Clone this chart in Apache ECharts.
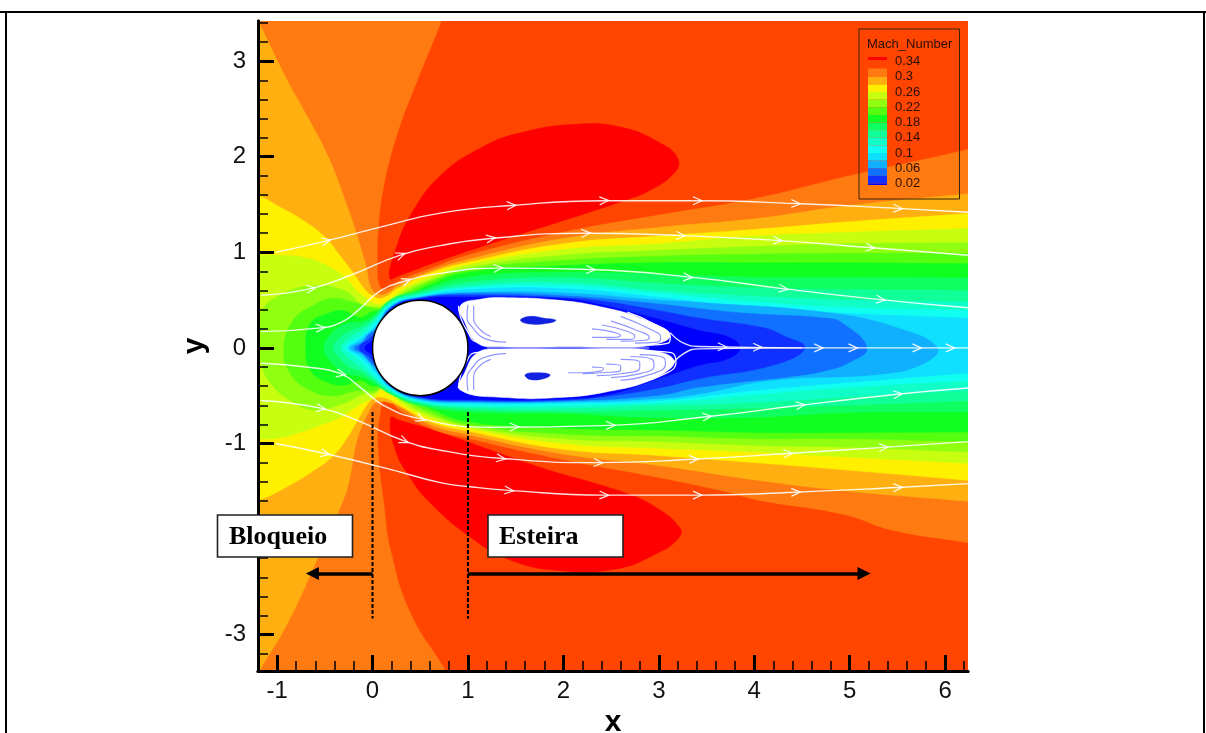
<!DOCTYPE html>
<html><head><meta charset="utf-8">
<style>html,body{margin:0;padding:0;background:#fff}#c{width:1206px;height:733px}</style>
<script src="https://cdn.jsdelivr.net/npm/echarts@6/dist/echarts.min.js"></script></head>
<body><div id="c"></div>
<script>
// ---------- ticks ----------
const xMajor=[-1,0,1,2,3,4,5,6];
const xMinor=[-0.8,-0.6,-0.4,-0.2,0.2,0.4,0.6,0.8,1.2,1.4,1.6,1.8,2.2,2.4,2.6,2.8,3.2,3.4,3.6,3.8,4.2,4.4,4.6,4.8,5.2,5.4,5.6,5.8,6.2];
const yMajor=[-3,-2,-1,0,1,2,3];
const yMinor=[-3.2,-2.8,-2.6,-2.4,-2.2,-1.8,-1.6,-1.4,-1.2,-0.8,-0.6,-0.4,-0.2,0.2,0.4,0.6,0.8,1.2,1.4,1.6,1.8,2.2,2.4,2.6,2.8,3.2,3.4];
// ---------- legend ----------
const legendTicks=[0.34,0.3,0.26,0.22,0.18,0.14,0.1,0.06,0.02];
const legendTop=0.352, legendBottom=0.016;
const machColors=['#FF0000','#FF4500','#FF7A10','#FFB010','#FFF000','#C8FF10','#90FF10','#55FF10','#10FF20','#10FF60','#10FF98','#10FFC8','#10FFF0','#10E0FF','#10B0FF','#1070FF','#1030FF','#0000FF'];
const machEdges=[0.352,0.344,0.322,0.30,0.28,0.26,0.24,0.22,0.20,0.18,0.16,0.14,0.12,0.10,0.08,0.06,0.04,0.02,0.016];
// ---------- Mach number contours, (x, y) ----------
const field=[[-2,4.2],[7,4.2],[7,-4.2],[-2,-4.2]];
const redTop=[[.18,.73],[.24,1.02],[.40,1.39],[.71,1.80],[1.13,2.09],[1.55,2.25],[2.13,2.34],[2.6,2.31],[3.02,2.14],[3.2,1.98],[3.17,1.84],[2.91,1.65],[2.6,1.53],[2.07,1.355],[1.34,1.125],[.71,.915],[.29,.76]];
const redBottom=[[.19,-.73],[.24,-1.07],[.4,-1.365],[.58,-1.595],[1.0,-1.96],[1.445,-2.22],[1.97,-2.33],[2.565,-2.31],[2.98,-2.15],[3.19,-2.01],[3.225,-1.89],[2.94,-1.65],[2.565,-1.49],[1.76,-1.25],[.71,-.885],[.29,-.76]];
const L1=[[7,2.27],[6.3,2.09],[5,1.80],[4,1.56],[3,1.39],[2,1.21],[1,.97],[.61,.83],[.29,.705],[.14,.61],[.07,.655],[.05,.885],[.06,1.23],[.115,1.68],[.26,2.24],[.47,2.80],[.72,3.42],[1.0,4.2],[-2,4.2],[-2,-4.2],[1.2,-4.2],[.76,-3.37],[.40,-2.78],[.19,-2.12],[.115,-1.6],[.06,-1.09],[.07,-.74],[.145,-.52],[.29,-.655],[.61,-.84],[1,-.945],[2,-1.17],[3,-1.355],[3.64,-1.49],[4.06,-1.595],[4.93,-1.74],[5.46,-1.91],[6.3,-2.05],[7,-2.2]];
const L2=[[7,1.7],[6.3,1.62],[5,1.49],[4,1.35],[3,1.26],[2,1.145],[1,.925],[.6,.80],[.28,.66],[.12,.56],[.0,.6],[-.07,.86],[-.145,1.12],[-.24,1.41],[-.46,1.99],[-.70,2.45],[-.91,2.83],[-1.15,3.32],[-1.6,4.2],[-2,4.2],[-2,-4.2],[-1.6,-4.1],[-1.17,-3.35],[-.89,-2.88],[-.575,-2.2],[-.31,-1.6],[-.24,-1.365],[-.17,-.99],[-.095,-.78],[-.03,-.655],[.02,-.58],[.12,-.56],[.29,-.62],[.6,-.80],[1,-.905],[2,-1.11],[3,-1.23],[4,-1.38],[5,-1.5],[6.3,-1.61],[7,-1.68]];
const L3=[[7,1.46],[6.3,1.41],[5,1.32],[4,1.24],[3,1.17],[2,1.09],[1,.895],[.6,.78],[.28,.63],[.1,.52],[-.01,.55],[-.095,.63],[-.2,.78],[-.345,.97],[-.51,1.17],[-.76,1.355],[-1.0,1.49],[-1.19,1.595],[-2,1.9],[-2,-1.9],[-1.19,-1.595],[-.93,-1.47],[-.66,-1.31],[-.41,-1.125],[-.27,-.945],[-.17,-.78],[-.06,-.60],[.01,-.53],[.12,-.52],[.28,-.60],[.6,-.77],[1,-.87],[2,-1.06],[3,-1.125],[4,-1.2],[5,-1.28],[6.3,-1.39],[7,-1.45]];
const L4=[[7,1.27],[6.3,1.25],[5,1.21],[4,1.17],[3,1.09],[2,1.03],[1,.87],[.6,.74],[.3,.6],[.12,.47],[0,.47],[-.08,.53],[-.17,.60],[-.27,.72],[-.45,.845],[-.69,.94],[-.97,.97],[-1.3,.97],[-2,.97],[-2,-.95],[-1.3,-.95],[-1.0,-.945],[-.76,-.885],[-.55,-.81],[-.345,-.73],[-.2,-.635],[-.095,-.57],[0,-.53],[.12,-.43],[.3,-.58],[.6,-.73],[1,-.84],[2,-1.0],[3,-1.05],[4,-1.09],[5,-1.145],[6.3,-1.21],[7,-1.24]];
const L5=[[7,1.10],[6.3,1.10],[5,1.09],[4,1.06],[3,1.02],[2,.97],[1,.84],[.6,.71],[.3,.57],[.12,.44],[0,.43],[-.09,.44],[-.3,.6],[-.61,.65],[-.93,.57],[-1.17,.37],[-1.2,0],[-1.17,-.16],[-1.07,-.37],[-.86,-.55],[-.61,-.65],[-.3,-.58],[-.09,-.48],[0,-.48],[.12,-.42],[.3,-.55],[.6,-.70],[1,-.82],[2,-.95],[3,-.98],[4,-1.02],[5,-1.04],[6.3,-1.09],[7,-1.1]];
const L6=[[7,.99],[6.3,.99],[5,.99],[4,.98],[3,.96],[2,.915],[1,.82],[.6,.69],[.3,.54],[.14,.42],[0,.42],[-.16,.465],[-.41,.52],[-.62,.445],[-.83,.29],[-.93,0],[-.86,-.27],[-.65,-.445],[-.41,-.5],[-.16,-.445],[0,-.45],[.14,-.41],[.3,-.52],[.6,-.67],[1,-.80],[2,-.90],[3,-.92],[4,-.95],[5,-.95],[6.3,-.98],[7,-.98]];
const L7=[[7,.88],[6.3,.88],[5,.89],[4,.89],[3,.89],[2,.86],[1,.79],[.6,.66],[.3,.5],[.14,.40],[0,.38],[-.125,.32],[-.31,.39],[-.47,.36],[-.65,.255],[-.70,0],[-.65,-.235],[-.47,-.36],[-.3,-.39],[-.125,-.34],[0,-.4],[.14,-.39],[.3,-.48],[.6,-.63],[1,-.77],[2,-.84],[3,-.86],[4,-.885],[5,-.885],[6.3,-.88],[7,-.88]];
const L8=[[7,.72],[6.3,.73],[5,.74],[4,.74],[3,.77],[2,.79],[1,.74],[.5,.60],[.2,.51],[0,.33],[-.125,.27],[-.26,.26],[-.41,.17],[-.51,0],[-.41,-.17],[-.26,-.27],[-.125,-.3],[0,-.36],[.2,-.49],[.5,-.6],[1,-.67],[2,-.685],[3,-.73],[4,-.725],[5,-.675],[6.3,-.67],[7,-.66]];
const L9=[[7,.58],[6.3,.60],[5,.61],[4,.63],[3,.675],[2,.735],[1,.685],[.5,.58],[.2,.49],[0,.30],[-.1,.23],[-.25,.17],[-.35,.1],[-.41,0],[-.35,-.1],[-.25,-.19],[-.1,-.26],[0,-.33],[.2,-.47],[.5,-.58],[1,-.64],[2,-.665],[3,-.65],[4,-.63],[5,-.60],[6.3,-.55],[7,-.52]];
const L10=[[7,.46],[6.3,.48],[5,.50],[4,.54],[3,.60],[2,.685],[1,.65],[.5,.56],[.2,.48],[0,.27],[-.1,.19],[-.22,.12],[-.33,0],[-.22,-.13],[-.1,-.22],[0,-.3],[.2,-.46],[.5,-.57],[1,-.62],[2,-.63],[3,-.60],[4,-.57],[5,-.51],[6.3,-.44],[7,-.41]];
const L11=[[7,.37],[6.3,.39],[5,.42],[4,.48],[3,.57],[2,.65],[1,.63],[.5,.55],[.2,.46],[0,.24],[-.08,.15],[-.18,.09],[-.29,0],[-.18,-.09],[-.08,-.18],[0,-.27],[.2,-.445],[.5,-.56],[1,-.60],[2,-.60],[3,-.57],[4,-.49],[5,-.41],[6.3,-.34],[7,-.31]];
const L12=[[7,.28],[6.3,.31],[5,.36],[4,.42],[3,.53],[2,.62],[1,.61],[.5,.54],[.2,.45],[.02,.22],[-.07,.15],[-.15,.08],[-.26,0],[-.15,-.08],[-.07,-.15],[.02,-.25],[.2,-.43],[.5,-.55],[1,-.585],[2,-.58],[3,-.55],[4,-.445],[5,-.36],[6.3,-.26],[7,-.23]];
const L13=[[5.92,0],[5.5,.21],[4.76,.37],[3.43,.475],[3,.50],[2,.575],[1,.58],[.5,.53],[.2,.44],[.03,.21],[-.05,.14],[-.12,.07],[-.23,0],[-.12,-.07],[-.05,-.13],[.03,-.23],[.2,-.42],[.5,-.54],[1,-.57],[2,-.565],[3,-.53],[3.43,-.48],[4.17,-.34],[5.36,-.27],[5.78,-.16]];
const L14=[[5.18,0],[4.93,.255],[4.76,.31],[3.95,.36],[3.43,.41],[3,.46],[2,.545],[1,.57],[.5,.525],[.2,.43],[.04,.2],[-.05,.13],[-.1,.06],[-.19,0],[-.1,-.06],[-.05,-.12],[.04,-.21],[.2,-.41],[.5,-.53],[1,-.56],[2,-.555],[3,-.495],[3.43,-.41],[4.45,-.29],[4.76,-.235],[5.0,-.15]];
const L15=[[4.53,0],[4.3,.13],[4.1,.21],[3.43,.31],[3,.39],[2.4,.49],[2,.525],[1,.55],[.5,.52],[.2,.42],[.05,.19],[-.03,.1],[-.14,0],[-.03,-.1],[.05,-.2],[.2,-.40],[.5,-.52],[1,-.55],[2,-.545],[2.5,-.5],[3,-.42],[3.43,-.32],[4.2,-.18]];
const L16=[[3.85,0],[3.74,.11],[3.43,.18],[3,.30],[2.4,.45],[2,.515],[1,.53],[.5,.51],[.2,.41],[.06,.17],[.0,.08],[-.08,0],[.0,-.08],[.06,-.2],[.2,-.39],[.5,-.51],[1,-.54],[2,-.535],[2.5,-.48],[3,-.32],[3.43,-.18],[3.73,-.11]];
// ---------- separated wake ----------
const whiteUpper=[[.92,.44],[1.13,.51],[1.41,.525],[1.94,.5],[2.39,.43],[2.81,.31],[3.12,.13],[2.81,.012],[2.1,.012],[1.34,.012],[1.1,.05],[.97,.26]];
const whiteLower=[[.92,-.44],[1.41,-.52],[1.94,-.52],[2.45,-.46],[2.95,-.32],[3.16,-.13],[2.81,-.012],[2.1,-.012],[1.34,-.012],[1.1,-.05],[.97,-.25]];
const spotUpper=[[1.55,.29],[1.65,.33],[1.8,.31],[1.92,.29],[1.85,.26],[1.65,.25]];
const spotLower=[[1.6,-.28],[1.72,-.26],[1.86,-.28],[1.8,-.32],[1.65,-.33]];
const loopsWhite=[
 [[2.67,.375],[2.95,.25],[3.12,.115],[3.10,.05],[2.88,.03]],
 [[2.85,-.03],[3.13,-.05],[3.18,-.15],[3.0,-.3],[2.7,-.38]],
 [[.9,.44],[.92,.33],[.98,.2],[1.1,.06],[1.45,.03]],
 [[.9,-.42],[.92,-.3],[.97,-.17],[1.08,-.05],[1.45,-.03]]];
const loopsBlue=[
 [[1.2,0],[2,0],[2.9,0]],
 [[2.6,.33],[2.9,.2],[3.02,.11],[2.98,.06],[2.75,.05]],
 [[2.5,.28],[2.78,.18],[2.9,.11],[2.85,.08],[2.6,.07]],
 [[2.4,.24],[2.65,.18],[2.75,.12],[2.7,.09],[2.45,.09]],
 [[2.3,.2],[2.5,.17],[2.6,.13],[2.5,.11],[2.3,.11]],
 [[2.8,-.07],[3.05,-.1],[3.07,-.17],[2.9,-.28],[2.6,-.34]],
 [[2.7,-.09],[2.93,-.12],[2.95,-.19],[2.75,-.28],[2.5,-.31]],
 [[2.6,-.12],[2.8,-.15],[2.8,-.21],[2.6,-.27],[2.35,-.29]],
 [[2.45,-.17],[2.6,-.19],[2.6,-.23],[2.4,-.26],[2.2,-.27]],
 [[2.3,-.2],[2.42,-.21],[2.4,-.24],[2.2,-.26],[2.05,-.26]],
 [[1.0,.45],[.99,.33],[1.06,.2],[1.17,.1],[1.4,.06]],
 [[1.06,.44],[1.06,.32],[1.12,.2],[1.24,.12]],
 [[1.0,-.45],[.99,-.33],[1.05,-.2],[1.17,-.1],[1.4,-.06]],
 [[1.06,-.44],[1.06,-.32],[1.11,-.2],[1.24,-.12]]];
const cylinder=[0.5,0,0.5];
// ---------- streamlines ----------
const s1=[[-1.015,1.0],[-.46,1.125],[.145,1.28],[.71,1.41],[1.445,1.49],[2.42,1.54],[3.43,1.54],[4.43,1.51],[5.5,1.46],[6.24,1.42]];
const s2=[[-1.17,.55],[-.65,.62],[-.23,.76],[.29,.97],[.71,1.07],[1.235,1.145],[2.23,1.2],[3.225,1.175],[4.24,1.125],[5.21,1.05],[6.24,.97]];
const s3=[[-1.17,.17],[-.545,.21],[-.335,.265],[-.155,.39],[.085,.6],[.365,.705],[.71,.78],[1.31,.835],[2.28,.82],[3.43,.73],[4.3,.62],[5.32,.505],[6.24,.42]];
const s4a=[[3.12,.16],[3.26,.05],[3.43,.015],[4.5,0],[6.24,0]];
const s4b=[[3.12,-.2],[3.26,-.06],[3.43,-.01],[4.5,0]];
const s5=[[-1.17,-.16],[-.65,-.205],[-.335,-.27],[-.125,-.415],[.115,-.6],[.5,-.74],[1.235,-.83],[2.49,-.81],[3.5,-.72],[4.48,-.60],[5.5,-.485],[6.24,-.42]];
const s6=[[-1.17,-.55],[-.545,-.63],[-.155,-.76],[.325,-.97],[.71,-1.07],[1.34,-1.155],[2.36,-1.2],[3.36,-1.165],[4.35,-1.105],[5.35,-1.04],[6.24,-.98]];
const s7=[[-1.015,-1.0],[-.5,-1.105],[.145,-1.26],[.71,-1.41],[1.0,-1.45],[1.425,-1.49],[2.42,-1.54],[3.43,-1.54],[4.43,-1.51],[5.5,-1.46],[6.24,-1.42]];
const arrowsS1=[-.49,1.45,2.42,3.4,4.43,5.5];
const arrowsS2=[-.65,.29,1.235,2.23,3.225,4.24,5.21];
const arrowsS3=[-.55,.35,1.31,2.28,3.3,4.3,5.32];
const arrowsS4=[3.66,4.03,4.67,5.03,5.7,6.05];
const arrowsS5=[-.335,.5,1.48,2.49,3.5,4.48,5.5];
const arrowsS6=[-.545,.325,1.34,2.36,3.36,4.35,5.35];
const arrowsS7=[-.5,1.425,2.42,3.4,4.43,5.5];
// ---------- annotations ----------
const guideBlock=[[0,-.67],[0,-2.83]];
const guideWake=[[1,-.67],[1,-2.83]];
const arrowBlock=[[0,-2.36],[-.63,-2.36]];
const arrowWake=[[1,-2.36],[5.15,-2.36]];

const layers=[
 [field,'#FF4500'],[redTop,'#FF0000'],[redBottom,'#FF0000'],
 [L1,'#FF7A10'],[L2,'#FFB010'],[L3,'#FFF000'],[L4,'#C8FF10'],[L5,'#90FF10'],[L6,'#55FF10'],[L7,'#10FF20'],
 [L8,'#10FF60'],[L9,'#10FF98'],[L10,'#10FFC8'],[L11,'#10FFF0'],[L12,'#10E0FF'],[L13,'#10B0FF'],[L14,'#1070FF'],[L15,'#1030FF'],[L16,'#0000FF'],
 [whiteUpper,'#FFFFFF'],[whiteLower,'#FFFFFF'],[spotUpper,'#1020E0'],[spotLower,'#1020E0']];

function line(data,color,width,z,extra){return Object.assign({type:'line',data:data,showSymbol:false,symbol:'none',silent:true,animation:false,z:z,smooth:0.5,
  lineStyle:{color:color,width:width}},extra||{});}

const streams=[[s1,arrowsS1],[s2,arrowsS2],[s3,arrowsS3],[s4a,arrowsS4],[s5,arrowsS5],[s6,arrowsS6],[s7,arrowsS7]];
const arrowItems=[];
streams.forEach((st,i)=>st[1].forEach(x=>arrowItems.push([x,i])));

const series=[];
series.push({type:'custom',coordinateSystem:'cartesian2d',clip:true,silent:true,animation:false,z:1,
  data:layers.map((l,i)=>[i]),encode:{x:[],y:[]},
  renderItem:function(p,api){const l=layers[api.value(0)];
    const smooth=api.value(0)===0?0:0.45;
    return {type:'polygon',shape:{points:l[0].map(c=>api.coord(c)),smooth:smooth},style:{fill:l[1],stroke:l[1],lineWidth:0.5}};}});
loopsBlue.forEach(l=>series.push(line(l,'#8f96ff',1.2,2,{smooth:0.5})));
loopsWhite.forEach(l=>series.push(line(l,'#ffffff',1.2,2,{smooth:0.5})));
[s1,s2,s3,s4a,s4b,s5,s6,s7].forEach(s=>series.push(line(s,'rgba(255,255,255,0.88)',1.4,3)));
series.push({type:'custom',coordinateSystem:'cartesian2d',clip:true,silent:true,animation:false,z:4,
  data:arrowItems,encode:{x:0,y:[]},
  renderItem:function(p,api){
    const x=api.value(0), pts=streams[api.value(1)][0];
    let k=0; while(k<pts.length-2&&pts[k+1][0]<x)k++;
    const a=pts[k],b=pts[k+1],t=(x-a[0])/(b[0]-a[0]);
    const c=api.coord([x,a[1]+t*(b[1]-a[1])]),pa=api.coord(a),pb=api.coord(b);
    const ang=Math.atan2(pb[1]-pa[1],pb[0]-pa[0]),cs=Math.cos(ang),sn=Math.sin(ang);
    const tip=[c[0]+5*cs,c[1]+5*sn];
    const wing=s=>[tip[0]-9*cs-s*4*-sn,tip[1]-9*sn-s*4*cs];
    return {type:'polyline',shape:{points:[wing(1),tip,wing(-1)]},style:{fill:null,stroke:'rgba(255,255,255,0.9)',lineWidth:1.2}};}});
series.push({type:'custom',coordinateSystem:'cartesian2d',clip:true,silent:true,animation:false,z:5,
  data:[cylinder],encode:{x:0,y:1},
  renderItem:function(p,api){const c=api.coord([api.value(0),api.value(1)]),r=api.size([api.value(2),0])[0];
    return {type:'circle',shape:{cx:c[0],cy:c[1],r:r},style:{fill:'#fff',stroke:'#000',lineWidth:1.5}};}});
[guideBlock,guideWake].forEach(g=>series.push(line(g,'#000',2,6,{smooth:false,lineStyle:{color:'#000',width:2,type:[4,2]}})));
[arrowBlock,arrowWake].forEach(a=>series.push({type:'line',data:[],silent:true,animation:false,z:7,symbol:'none',
  markLine:{silent:true,animation:false,symbol:['none','triangle'],symbolSize:13,label:{show:false},
    lineStyle:{color:'#000',width:3.5,type:'solid'},itemStyle:{color:'#000'},
    data:[[{coord:a[0]},{coord:a[1]}]]}}));
// legend colour bar
series.push({type:'custom',coordinateSystem:'cartesian2d',xAxisIndex:2,yAxisIndex:2,silent:true,animation:false,z:8,
  data:machColors.map((c,i)=>[i]),encode:{x:[],y:[]},
  renderItem:function(p,api){const i=api.value(0);
    const a=api.coord([0,machEdges[i]]),b=api.coord([1,machEdges[i+1]]);
    return {type:'rect',shape:{x:a[0],y:a[1],width:b[0]-a[0],height:b[1]-a[1]},style:{fill:machColors[i]}};}});

const sans='"Liberation Sans",Arial,sans-serif', serif='"Liberation Serif","Times New Roman",serif';
const axisBase={z:20,axisLine:{onZero:false,lineStyle:{color:'#000',width:3}},splitLine:{show:false},minorTick:{show:false}};
function labelBox(x,w,txt,tx){return {type:'group',z:100,children:[
  {type:'rect',z:100,shape:{x:x,y:515,width:w,height:42},style:{fill:'#fff',stroke:'#222',lineWidth:1.6}},
  {type:'text',z:101,x:tx,y:537,style:{text:txt,fill:'#000',font:'bold 26px '+serif,textVerticalAlign:'middle'}}]};}
const option={animation:false,backgroundColor:'#fff',
 grid:[{left:258,top:21,width:710,height:650,outerBoundsMode:'none'},{left:868,top:57,width:19,height:128,outerBoundsMode:'none'}],
 xAxis:[
  Object.assign({},axisBase,{type:'value',min:-1.2,max:6.24,gridIndex:0,position:'bottom',name:'x',nameLocation:'middle',nameGap:23,
    nameTextStyle:{fontFamily:sans,fontWeight:'bold',fontSize:30,color:'#000'},
    axisTick:{show:true,inside:true,length:16,lineStyle:{color:'#000',width:3},customValues:xMajor},
    axisLabel:{show:true,customValues:xMajor,margin:8,fontFamily:sans,fontSize:24,color:'#111'}}),
  Object.assign({},axisBase,{type:'value',min:-1.2,max:6.24,gridIndex:0,position:'bottom',
    axisTick:{show:true,inside:true,length:10,lineStyle:{color:'#000',width:1.5},customValues:xMinor},
    axisLabel:{show:false}}),
  {type:'value',min:0,max:1,gridIndex:1,show:false}],
 yAxis:[
  Object.assign({},axisBase,{type:'value',min:-3.38,max:3.42,gridIndex:0,position:'left',name:'y',nameLocation:'middle',nameGap:48,nameRotate:90,
    nameTextStyle:{fontFamily:sans,fontWeight:'bold',fontSize:30,color:'#000'},
    axisTick:{show:true,inside:true,length:16,lineStyle:{color:'#000',width:3},customValues:yMajor},
    axisLabel:{show:true,customValues:yMajor,margin:12,fontFamily:sans,fontSize:24,color:'#111'}}),
  Object.assign({},axisBase,{type:'value',min:-3.38,max:3.42,gridIndex:0,position:'left',
    axisTick:{show:true,inside:true,length:10,lineStyle:{color:'#000',width:1.5},customValues:yMinor},
    axisLabel:{show:false}}),
  {type:'value',z:20,min:legendBottom,max:legendTop,gridIndex:1,position:'right',axisLine:{show:false},axisTick:{show:false},splitLine:{show:false},
    axisLabel:{show:true,customValues:legendTicks,margin:8,fontFamily:sans,fontSize:13,color:'#2a1000',formatter:v=>String(+v.toFixed(2))}}],
 series:series,
 graphic:{elements:[
  {type:'line',z:100,shape:{x1:0,y1:12,x2:1206,y2:12},style:{stroke:'#000',lineWidth:2}},
  {type:'line',z:100,shape:{x1:6,y1:12,x2:6,y2:733},style:{stroke:'#000',lineWidth:2}},
  {type:'line',z:100,shape:{x1:1204,y1:12,x2:1204,y2:733},style:{stroke:'#000',lineWidth:2}},
  {type:'rect',z:100,shape:{x:859,y:29,width:100.5,height:170},style:{fill:null,stroke:'#3a2408',lineWidth:1}},
  {type:'text',z:101,x:867,y:44,style:{text:'Mach_Number',fill:'#2a1000',font:'13px '+sans,textVerticalAlign:'middle'}},
  labelBox(217.5,135,'Bloqueio',229),
  labelBox(488,135,'Esteira',499)]}
};
const chart=echarts.init(document.getElementById('c'),null,{renderer:'canvas'});
chart.setOption(option);
</script></body></html>
